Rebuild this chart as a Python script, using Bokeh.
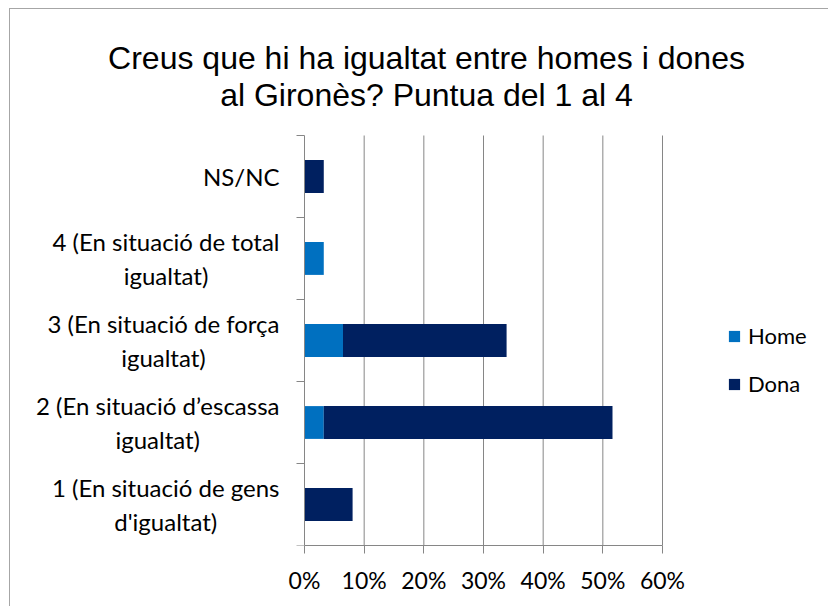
from bokeh.plotting import figure
from bokeh.models import ColumnDataSource, FixedTicker, NumeralTickFormatter, Range1d, Label
from bokeh.embed import file_html
from bokeh.resources import INLINE

# ---- data ----
categories = [
    "1 (En situació de gens\nd'igualtat)",
    "2 (En situació d’escassa\nigualtat)",
    "3 (En situació de força\nigualtat)",
    "4 (En situació de total\nigualtat)",
    "NS/NC",
]
home = [0.0, 0.0323, 0.0645, 0.0323, 0.0]
dona = [0.0806, 0.4839, 0.2742, 0.0, 0.0323]
series = ["Home", "Dona"]
colors = ["#0070C0", "#002060"]
x_ticks = [0.0, 0.1, 0.2, 0.3, 0.4, 0.5, 0.6]
title_lines = ["Creus que hi ha igualtat entre homes i dones",
               "al Gironès? Puntua del 1 al 4"]

LABEL_FONT = "Lato"
GRID = "#868686"

# ---- layout (pixels) ----
W, H = 819, 598                 # canvas inside the 1px border
BOTTOM = 62                     # room for the % tick labels
AXIS_X = 294                    # canvas x of the 0% line
PX_PER_UNIT_X = 358 / 0.6       # 0..60% spans 358 px
PX_PER_CAT = 82                 # each category band

n = len(categories)
x_start = -AXIS_X / PX_PER_UNIT_X
x_end = (W - AXIS_X) / PX_PER_UNIT_X
y_end = (H - BOTTOM) / PX_PER_CAT

ypos = [i + 0.5 for i in range(n)]
source = ColumnDataSource(dict(y=ypos, Home=home, Dona=dona))

p = figure(
    width=W, height=H,
    x_range=Range1d(x_start, x_end), y_range=Range1d(0, y_end),
    output_backend="svg", toolbar_location=None,
    min_border_left=0, min_border_right=0, min_border_top=0, min_border_bottom=BOTTOM,
)
p.styles = {"margin-left": "9px", "margin-top": "8px",
            "border-left": "1px solid #a6a6a6", "border-top": "1px solid #a6a6a6"}
p.outline_line_color = None
p.title.visible = False

# vertical grid lines, limited to the category area
grid_x = x_ticks[1:]
p.segment(x0=grid_x, y0=[0] * len(grid_x), x1=grid_x, y1=[n] * len(grid_x),
          line_color=GRID, line_width=1)

p.hbar_stack(series, y="y", height=0.4, color=colors, source=source,
             legend_label=series, line_color=None)

# x axis
p.xaxis.ticker = FixedTicker(ticks=x_ticks)
p.xaxis.bounds = (x_ticks[0], x_ticks[-1])
p.xaxis.formatter = NumeralTickFormatter(format="0%")
p.xaxis.axis_line_color = GRID
p.xaxis.major_tick_line_color = GRID
p.xaxis.major_tick_out = 8
p.xaxis.major_tick_in = 0
p.xaxis.minor_tick_line_color = None
p.xaxis.major_label_text_font = LABEL_FONT
p.xaxis.major_label_text_font_size = "23px"
p.xaxis.major_label_text_color = "black"
p.xaxis.major_label_standoff = 12

# y axis at x = 0: ticks at category boundaries
bounds_ticks = list(range(n + 1))
p.yaxis.fixed_location = 0
p.yaxis.bounds = (0, n)
p.yaxis.ticker = FixedTicker(ticks=bounds_ticks)
p.yaxis.major_label_overrides = {t: "" for t in bounds_ticks}
p.yaxis.axis_line_color = GRID
p.yaxis.major_tick_line_color = GRID
p.yaxis.major_tick_out = 8
p.yaxis.major_tick_in = 0
p.yaxis.minor_tick_line_color = None

p.xgrid.grid_line_color = None
p.ygrid.grid_line_color = None

# category labels (centred lines, block right-aligned next to the axis)
for cat, y in zip(categories, ypos):
    p.add_layout(Label(
        x=0, y=y, x_offset=-25, text=cat,
        anchor="center_right", text_align="center", text_baseline="middle",
        text_font=LABEL_FONT, text_font_size="24px", text_color="black",
        text_line_height=1.2,
    ))

# title
title_x = (426 - 10 - AXIS_X) / PX_PER_UNIT_X
for txt, base in zip(title_lines, [57, 94]):
    p.add_layout(Label(
        x=title_x, y=(545 - base) / PX_PER_CAT, text=txt,
        text_align="center", text_baseline="alphabetic",
        text_font="Liberation Sans", text_font_size="32px", text_color="black",
    ))

lg = p.legend[0]
lg.location = (717, 148)
lg.orientation = "vertical"
lg.glyph_width = 14
lg.glyph_height = 14
lg.label_height = 20
lg.label_text_font = LABEL_FONT
lg.label_text_font_size = "22px"
lg.label_text_color = "black"
lg.label_standoff = 7
lg.spacing = 21
lg.padding = 0
lg.margin = 0
lg.border_line_color = None
lg.background_fill_alpha = 0

open("out.html", "w").write(file_html(p, INLINE))
